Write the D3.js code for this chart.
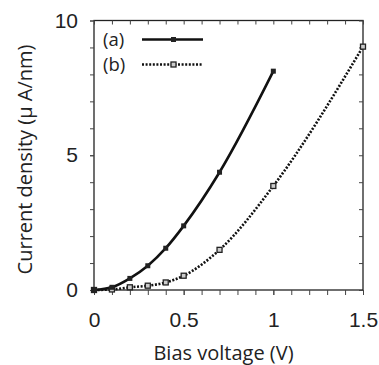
<!DOCTYPE html>
<html>
<head>
<meta charset="utf-8">
<script src="https://cdn.jsdelivr.net/npm/d3@7"></script>
<style>
  html, body { margin: 0; padding: 0; background: #fff; }
  svg { display: block; font-family: "Open Sans", "DejaVu Sans", sans-serif; }
</style>
</head>
<body>
<svg id="chart" width="379" height="365"></svg>
<script>
// Bias voltage (V) and current density (uA/nm)
const voltsA = [0, 0.1, 0.2, 0.3, 0.4, 0.5, 0.7, 1.0];
const currentA = [0, 0.1, 0.43, 0.9, 1.55, 2.38, 4.37, 8.12];
const voltsB = [0, 0.1, 0.2, 0.3, 0.4, 0.5, 0.7, 1.0, 1.5];
const currentB = [0, 0.02, 0.1, 0.16, 0.28, 0.53, 1.49, 3.86, 9.03];
const xTicks = [0, 0.5, 1, 1.5];
const yTicks = [0, 5, 10];
const seriesNames = ['(a)', '(b)'];

const svg = d3.select('#chart');
const margin = {top: 20.5, right: 16, bottom: 75, left: 94};
const width = 379 - margin.left - margin.right;
const height = 365 - margin.top - margin.bottom;

const g = svg.append('g')
    .attr('transform', `translate(${margin.left},${margin.top})`);

const x = d3.scaleLinear().domain([0, 1.5]).range([0, width]);
const y = d3.scaleLinear().domain([0, 10]).range([height, 0]);

// minor ticks every 0.1 V and every 1 unit
const xMinor = d3.range(0, 1.51, 0.1);
const yMinor = d3.range(0, 10.1, 1);

// frame
g.append('rect')
    .attr('width', width)
    .attr('height', height)
    .attr('fill', 'none')
    .attr('stroke', '#222')
    .attr('stroke-width', 1.3);

// bottom axis
g.append('g')
    .attr('transform', `translate(0,${height})`)
    .call(d3.axisBottom(x).tickValues(xMinor).tickSize(5).tickFormat(''))
    .call(a => a.select('.domain').remove());
g.append('g')
    .attr('transform', `translate(0,${height})`)
    .call(d3.axisBottom(x).tickValues(xTicks).tickSize(5).tickPadding(17)
        .tickFormat(d => d))
    .call(a => a.select('.domain').remove())
    .selectAll('text')
    .style('font-size', '21px')
    .attr('fill', '#222');

// top axis (inward ticks)
g.append('g')
    .call(d3.axisBottom(x).tickValues(xMinor).tickSize(4).tickFormat(''))
    .call(a => a.select('.domain').remove());

// left axis
g.append('g')
    .call(d3.axisLeft(y).tickValues(yMinor).tickSize(4).tickFormat(''))
    .call(a => a.select('.domain').remove());
g.append('g')
    .call(d3.axisLeft(y).tickValues(yTicks).tickSize(4).tickPadding(12))
    .call(a => a.select('.domain').remove())
    .selectAll('text')
    .style('font-size', '21px')
    .attr('fill', '#222');

// right axis (inward ticks)
g.append('g')
    .attr('transform', `translate(${width},0)`)
    .call(d3.axisLeft(y).tickValues(yMinor).tickSize(4).tickFormat(''))
    .call(a => a.select('.domain').remove());

g.selectAll('.tick line').attr('stroke', '#444');

// lines
const line = d3.line()
    .x(d => x(d[0]))
    .y(d => y(d[1]))
    .curve(d3.curveMonotoneX);

const dataA = voltsA.map((v, i) => [v, currentA[i]]);
const dataB = voltsB.map((v, i) => [v, currentB[i]]);

g.append('path')
    .datum(dataB)
    .attr('d', line)
    .attr('fill', 'none')
    .attr('stroke', '#111')
    .attr('stroke-width', 2.6)
    .attr('stroke-dasharray', '2,1.6');

g.append('path')
    .datum(dataA)
    .attr('d', line)
    .attr('fill', 'none')
    .attr('stroke', '#111')
    .attr('stroke-width', 2.6);

// markers
g.selectAll('.mb')
    .data(dataB)
    .enter()
    .append('rect')
    .attr('class', 'mb')
    .attr('x', d => x(d[0]) - 2.5)
    .attr('y', d => y(d[1]) - 2.5)
    .attr('width', 5)
    .attr('height', 5)
    .attr('fill', '#ccc')
    .attr('stroke', '#222')
    .attr('stroke-width', 1.3);

g.selectAll('.ma')
    .data(dataA)
    .enter()
    .append('rect')
    .attr('class', 'ma')
    .attr('x', d => x(d[0]) - 2.5)
    .attr('y', d => y(d[1]) - 2.5)
    .attr('width', 5)
    .attr('height', 5)
    .attr('fill', '#222');

// legend
const rowGap = 25;
const legend = g.append('g').attr('transform', 'translate(9,19)');
seriesNames.forEach((name, i) => {
    const row = legend.append('g').attr('transform', `translate(0,${i * rowGap})`);
    row.append('text')
        .attr('x', 0)
        .attr('y', 6.5)
        .style('font-size', '18.5px')
        .attr('fill', '#222')
        .text(name);
    row.append('line')
        .attr('x1', 39).attr('x2', 100)
        .attr('y1', 0).attr('y2', 0)
        .attr('stroke', '#111')
        .attr('stroke-width', i === 0 ? 2.6 : 2.4)
        .attr('stroke-dasharray', i === 0 ? null : '2,1.6');
    row.append('rect')
        .attr('x', 68).attr('y', -2.5)
        .attr('width', 5).attr('height', 5)
        .attr('fill', i === 0 ? '#222' : '#ccc')
        .attr('stroke', i === 0 ? 'none' : '#222')
        .attr('stroke-width', 1.3);
});

// axis titles
svg.append('text')
    .attr('x', margin.left + width / 2 - 5)
    .attr('y', 360)
    .attr('text-anchor', 'middle')
    .style('font-size', '20px')
    .attr('fill', '#222')
    .text('Bias voltage (V)');

svg.append('text')
    .attr('transform', `translate(32,${margin.top + 139}) rotate(-90)`)
    .attr('text-anchor', 'middle')
    .style('font-size', '20px')
    .attr('fill', '#222')
    .text('Current density (μ A/nm)');
</script>
</body>
</html>
